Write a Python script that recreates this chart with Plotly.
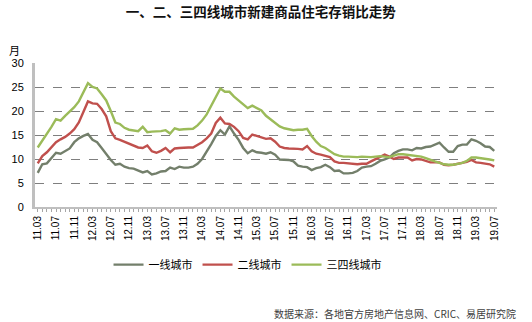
import plotly.graph_objects as go

# Monthly labels 2011.03 .. 2019.07 (101 months); every 4th month is labelled
months = [f"{(2011 + (m // 12)) % 100:02d}.{m % 12 + 1:02d}" for m in range(2, 2 + 101)]
tick_idx = list(range(0, 101, 4))
tick_text = [months[i] for i in tick_idx]

# Inventory-to-sales ratio (months)
tier1 = [7.1, 8.9, 9.1, 10.3, 11.3, 11.1, 11.6, 12.2, 13.5, 14.3,
         14.8, 15.2, 14.0, 13.5, 12.3, 11.0, 9.8, 8.8, 9.0, 8.4,
         8.1, 8.0, 7.6, 7.2, 7.5, 6.8, 7.0, 7.4, 7.5, 8.2,
         7.9, 8.4, 8.2, 8.2, 8.4, 9.0, 10.0, 11.5, 13.1, 14.8,
         16.0, 15.1, 16.8, 15.3, 14.0, 12.3, 11.2, 11.8, 11.4, 11.3,
         11.1, 11.4, 10.9, 9.9, 9.8, 9.8, 9.5, 8.6, 8.4, 8.3,
         7.7, 8.1, 8.3, 8.8, 8.3, 7.5, 7.6, 7.0, 7.0, 7.1,
         7.5, 8.2, 8.4, 8.5, 9.0, 9.6, 9.9, 10.3, 11.2, 11.7,
         12.0, 12.0, 11.8, 12.3, 12.2, 12.5, 12.6, 13.0, 13.4, 12.4,
         11.5, 11.5, 12.7, 13.0, 13.0, 14.1, 13.8, 13.3, 12.6, 12.5,
         11.7]
tier2 = [9.1, 10.6, 11.4, 12.4, 13.5, 14.1, 14.6, 15.3, 16.2, 17.6,
         19.8, 22.0, 21.6, 21.5, 20.4, 18.9, 15.8, 14.3, 14.0, 13.6,
         13.3, 12.8, 12.4, 12.3, 12.8, 11.6, 11.3, 11.7, 12.3, 11.4,
         12.2, 12.3, 12.4, 12.4, 12.4, 12.9, 13.5, 14.3, 15.3, 17.5,
         18.6, 17.4, 17.3, 16.7, 15.8, 14.4, 14.1, 15.1, 14.8, 14.6,
         14.2, 14.3, 13.6, 12.6, 12.3, 12.2, 12.2, 12.1, 12.0, 12.7,
         11.6, 11.1, 10.9, 10.7, 10.4, 9.5, 9.2, 9.2, 9.1, 9.0,
         8.9, 9.0, 9.0, 9.5, 10.0, 10.4, 10.9, 10.5, 10.0, 10.3,
         10.3, 10.3, 9.7, 10.0, 9.9, 9.6, 9.3, 9.3, 9.3, 8.8,
         8.7, 8.8, 9.0, 9.2, 9.4, 9.8, 9.3, 9.2, 9.0, 8.9,
         8.4]
tier34 = [12.4, 13.8, 15.2, 16.7, 18.3, 18.0, 19.0, 19.8, 20.8, 22.0,
          23.8, 25.8, 25.0, 24.7, 23.5, 22.2, 20.0, 17.6, 17.3, 16.5,
          16.1, 15.9, 15.8, 16.7, 15.6, 15.7, 15.7, 15.8, 16.0, 15.3,
          16.4, 16.1, 16.2, 16.2, 16.3, 17.0, 18.0, 19.3, 21.0, 23.0,
          24.7, 24.0, 24.0, 23.0, 22.2, 21.2, 20.6, 21.1, 20.6, 20.1,
          19.0, 18.3, 17.6, 16.8, 16.4, 16.2, 16.0, 16.1, 16.1, 16.3,
          14.8, 13.6, 12.7, 12.3, 11.7, 11.0, 10.7, 10.5, 10.5, 10.4,
          10.4, 10.5, 10.4, 10.4, 10.5, 10.6, 10.5, 10.4, 10.7, 11.0,
          11.0, 10.9, 10.7, 10.6, 10.5, 10.2, 9.8, 9.5, 9.2, 8.9,
          8.8, 8.8, 9.0, 9.2, 9.6, 10.3, 10.3, 10.2, 10.1, 9.9,
          9.7]

series_names = ["一线城市", "二线城市", "三四线城市"]
series_colors = ["#737f6b", "#c0504d", "#9bbb59"]
x = list(range(len(months)))

fig = go.Figure()
for name, vals, col in zip(series_names, [tier1, tier2, tier34], series_colors):
    fig.add_trace(go.Scatter(
        x=x, y=vals, name=name, mode="lines",
        line=dict(color=col, width=2.4),
        hovertext=months,
    ))

font_cn = "Noto Sans CJK SC"

fig.update_layout(
    width=532, height=322,
    margin=dict(l=30, r=35, t=63, b=115),
    paper_bgcolor="white", plot_bgcolor="white",
    font=dict(family=font_cn, size=11, color="#000000"),
    title=dict(text="<b>一、二、三四线城市新建商品住宅存销比走势</b>",
               x=0.49, xanchor="center", y=0.963, yanchor="middle",
               font=dict(family=font_cn, size=13.5, color="#111111")),
    showlegend=True,
    legend=dict(orientation="h", x=0.46, xanchor="center", y=-0.40, yanchor="middle",
                font=dict(family=font_cn, size=11, color="#000000"),
                itemwidth=30, tracegroupgap=0, bgcolor="rgba(0,0,0,0)"),
    xaxis=dict(
        range=[-0.6, 100.6], tickmode="array", tickvals=tick_idx, ticktext=tick_text,
        tickangle=-90, tickfont=dict(family="Liberation Sans", size=10, color="#000000"),
        showgrid=False, zeroline=False,
        showline=True, linecolor="#bfbfbf", linewidth=2,
        ticks="outside", ticklen=3, tickcolor="#a6a6a6", tickwidth=1,
        minor=dict(dtick=1, tick0=0, ticks="outside", ticklen=3, tickcolor="#a6a6a6", tickwidth=1),
    ),
    yaxis=dict(
        range=[0, 30], dtick=5, tick0=0,
        tickfont=dict(family="Liberation Sans", size=11, color="#000000"),
        showgrid=True, gridcolor="#7f7f7f", griddash="dash", gridwidth=1,
        zeroline=False, showline=True, linecolor="#bfbfbf", linewidth=3,
        ticks="", ticklabelstandoff=6,
    ),
)

fig.add_annotation(text="月", xref="paper", yref="paper", x=-0.045, y=1.09,
                   xanchor="center", yanchor="middle", showarrow=False,
                   font=dict(family=font_cn, size=11, color="#000000"))
fig.add_annotation(text="数据来源：各地官方房地产信息网、CRIC、易居研究院",
                   xref="paper", yref="paper", x=1.045, y=-0.74,
                   xanchor="right", yanchor="middle", showarrow=False,
                   font=dict(family=font_cn, size=10, color="#404040"))

fig.write_html("out.html")
